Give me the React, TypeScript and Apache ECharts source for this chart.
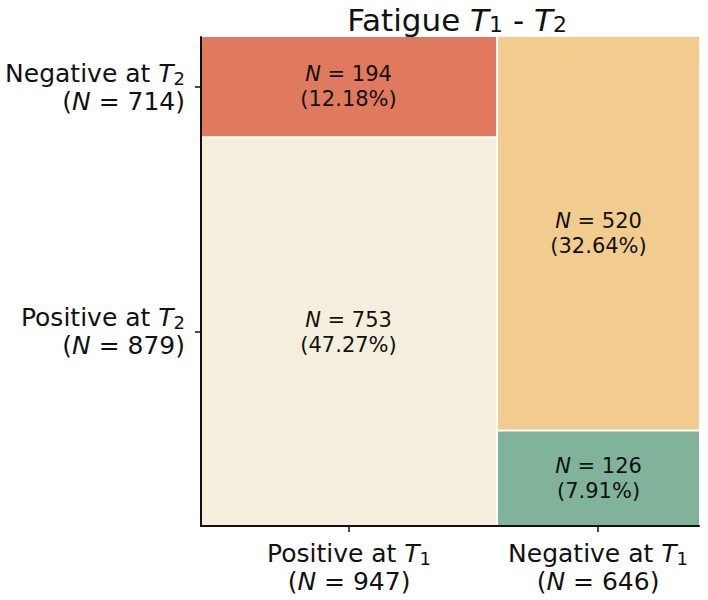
import React, { useEffect, useRef } from "react";
import * as echarts from "echarts";

// ---- data ----
const t1Groups = ["Positive", "Negative"]; // columns (x)
const t1Totals = [947, 646];
const t2Groups = ["Negative", "Positive"]; // rows (y), top to bottom
const t2Totals = [714, 879];
// counts per T1 column: [Negative at T2, Positive at T2]
const cellCounts = [
  [194, 753],
  [520, 126],
];
const grandTotal = 1593;

// ---- styles ----
const FONT = "DejaVu Sans";
const cellColors = [
  ["#E07A5F", "#F4EFDC"],
  ["#F2CC8F", "#81B29A"],
];

export default function App() {
  const ref = useRef<HTMLDivElement>(null);

  useEffect(() => {
    if (!ref.current) return;
    const chart = echarts.init(ref.current, null, { renderer: "svg" });

    const cells: any[] = [];
    let xStart = 0;
    t1Totals.forEach((colTotal, ci) => {
      let yStart = 0;
      cellCounts[ci].forEach((n, ri) => {
        const frac = n / colTotal;
        cells.push({
          value: [xStart, xStart + colTotal, yStart, yStart + frac, n],
          color: cellColors[ci][ri],
        });
        yStart += frac;
      });
      xStart += colTotal;
    });

    const xTickVals: number[] = [];
    let acc = 0;
    t1Totals.forEach((t) => {
      xTickVals.push(acc + t / 2);
      acc += t;
    });
    const yTickVals: number[] = [];
    let yacc = 0;
    cellCounts[0].forEach((n) => {
      const f = n / t1Totals[0];
      yTickVals.push(yacc + f / 2);
      yacc += f;
    });

    const TICK = 25;
    const tickRich = (size: number) => ({
      i: { fontStyle: "italic", fontSize: size, fontFamily: FONT, color: "#111" },
      sub: {
        fontSize: Math.round(size * 0.7),
        fontFamily: FONT,
        color: "#111",
        verticalAlign: "bottom",
        lineHeight: 21,
      },
    });

    const option: any = {
      animation: false,
      title: {
        text: "Fatigue {i|T}{sub|1} - {i|T}{sub|2}",
        left: 452,
        top: -1,
        textAlign: "center",
        textStyle: {
          fontFamily: FONT,
          fontSize: 31,
          fontWeight: "normal",
          color: "#111",
          rich: {
            i: { fontStyle: "italic", fontSize: 31, fontFamily: FONT, color: "#111" },
            sub: { fontSize: 22, fontFamily: FONT, color: "#111", verticalAlign: "bottom", lineHeight: 22 },
          },
        },
      },
      grid: { left: 201, right: 9, top: 37, bottom: 74, containLabel: false },
      xAxis: {
        type: "value",
        position: "bottom",
        min: 0,
        max: grandTotal,
        z: 10,
        splitLine: { show: false },
        axisLine: { show: true, onZero: false, lineStyle: { color: "#111", width: 2 } },
        axisTick: { show: true, length: 6, lineStyle: { color: "#111", width: 1.5 }, customValues: xTickVals },
        axisLabel: {
          customValues: xTickVals,
          margin: 13,
          fontFamily: FONT,
          fontSize: TICK,
          color: "#111",
          lineHeight: 28,
          align: "center",
          formatter: (v: number) => {
            const idx = xTickVals.findIndex((t) => Math.abs(t - v) < 1e-6);
            if (idx < 0) return "";
            return `${t1Groups[idx]} at {i|T}{sub|1}\n({i|N} = ${t1Totals[idx]})`;
          },
          rich: tickRich(TICK),
        },
      },
      yAxis: {
        type: "value",
        position: "left",
        min: 0,
        max: 1,
        inverse: true,
        z: 10,
        splitLine: { show: false },
        axisLine: { show: true, onZero: false, lineStyle: { color: "#111", width: 2 } },
        axisTick: { show: true, length: 6, lineStyle: { color: "#111", width: 1.5 }, customValues: yTickVals },
        axisLabel: {
          customValues: yTickVals,
          margin: 16,
          fontFamily: FONT,
          fontSize: TICK,
          color: "#111",
          lineHeight: 28,
          align: "right",
          formatter: (v: number) => {
            const idx = yTickVals.findIndex((t) => Math.abs(t - v) < 1e-6);
            if (idx < 0) return "";
            return `${t2Groups[idx]} at {i|T}{sub|2}\n({i|N} = ${t2Totals[idx]})`;
          },
          rich: tickRich(TICK),
        },
      },
      series: [
        {
          type: "custom",
          clip: false,
          data: cells,
          renderItem: (params: any, api: any) => {
            const x0 = api.value(0);
            const x1 = api.value(1);
            const y0 = api.value(2);
            const y1 = api.value(3);
            const n = api.value(4);
            const p0 = api.coord([x0, y0]);
            const p1 = api.coord([x1, y1]);
            let left = Math.min(p0[0], p1[0]);
            let right = Math.max(p0[0], p1[0]);
            let top = Math.min(p0[1], p1[1]);
            let bottom = Math.max(p0[1], p1[1]);
            if (x0 > 0) left += 1;
            if (x1 < grandTotal) right -= 1;
            if (y0 > 1e-9) top += 1;
            if (y1 < 1 - 1e-9) bottom -= 1;
            const color = cells[params.dataIndex].color;
            const pct = ((n / grandTotal) * 100).toFixed(2);
            return {
              type: "rect",
              shape: { x: left, y: top, width: right - left, height: bottom - top },
              style: { fill: color },
              textContent: {
                style: {
                  text: `{i|N} = ${n}\n(${pct}%)`,
                  fontFamily: FONT,
                  fontSize: 21,
                  fill: "#111",
                  align: "center",
                  verticalAlign: "middle",
                  lineHeight: 25,
                  rich: {
                    i: { fontStyle: "italic", fontSize: 21, fontFamily: FONT, fill: "#111", lineHeight: 25 },
                  },
                },
              },
              textConfig: { position: "inside" },
            };
          },
        },
      ],
    };

    chart.setOption(option);
    return () => chart.dispose();
  }, []);

  return (
    <div
      ref={ref}
      style={{ position: "absolute", left: 0, top: 0, width: 708, height: 600, background: "#fff" }}
    />
  );
}
